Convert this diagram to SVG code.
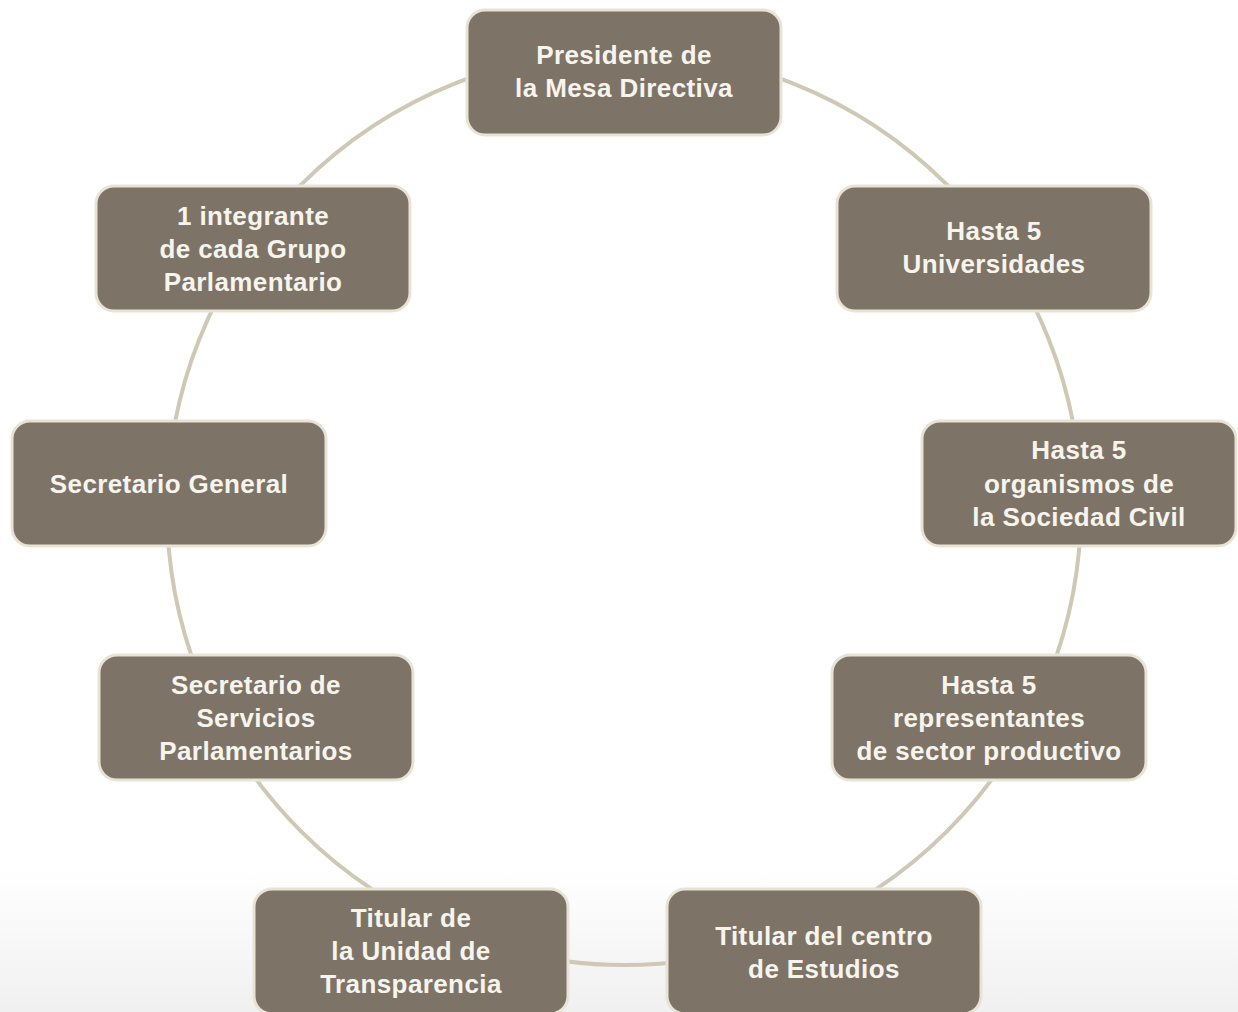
<svg xmlns="http://www.w3.org/2000/svg" width="1238" height="1012" viewBox="0 0 1238 1012">
  <defs>
    <linearGradient id="bg" x1="0" y1="0" x2="0" y2="1">
      <stop offset="0" stop-color="#ffffff"/>
      <stop offset="0.86" stop-color="#ffffff"/>
      <stop offset="1" stop-color="#f0f0f0"/>
    </linearGradient>
    <style>
      .node rect { fill: #7d7467; stroke: #e9e3d5; stroke-width: 3; }
      .node text { fill: #f7f4ee; font-family: "Liberation Sans", "DejaVu Sans", sans-serif; font-weight: bold; font-size: 26px; text-anchor: middle; letter-spacing: 0.4px; }
      .ring { fill: none; stroke: #cfc8b5; stroke-width: 4; }
    </style>
  </defs>
  <rect x="0" y="0" width="1238" height="1012" fill="url(#bg)"/>
  <g id="connectors">
    <circle class="ring" cx="624" cy="508" r="457"/>
  </g>
  <g id="n1" class="node">
    <rect x="467" y="10" width="314" height="125" rx="18"/>
    <text x="624" y="64">Presidente de</text>
    <text x="624" y="97">la Mesa Directiva</text>
  </g>
  <g id="n2" class="node">
    <rect x="837" y="186" width="314" height="125" rx="18"/>
    <text x="994" y="240">Hasta 5</text>
    <text x="994" y="273">Universidades</text>
  </g>
  <g id="n3" class="node">
    <rect x="922" y="421" width="314" height="125" rx="18"/>
    <text x="1079" y="459">Hasta 5</text>
    <text x="1079" y="493">organismos de</text>
    <text x="1079" y="526">la Sociedad Civil</text>
  </g>
  <g id="n4" class="node">
    <rect x="832" y="655" width="314" height="125" rx="18"/>
    <text x="989" y="694">Hasta 5</text>
    <text x="989" y="727">representantes</text>
    <text x="989" y="760">de sector productivo</text>
  </g>
  <g id="n5" class="node">
    <rect x="667" y="889" width="314" height="125" rx="18"/>
    <text x="824" y="945">Titular del centro</text>
    <text x="824" y="978">de Estudios</text>
  </g>
  <g id="n6" class="node">
    <rect x="254" y="889" width="314" height="125" rx="18"/>
    <text x="411" y="927">Titular de</text>
    <text x="411" y="960">la Unidad de</text>
    <text x="411" y="993">Transparencia</text>
  </g>
  <g id="n7" class="node">
    <rect x="99" y="655" width="314" height="125" rx="18"/>
    <text x="256" y="694">Secretario de</text>
    <text x="256" y="727">Servicios</text>
    <text x="256" y="760">Parlamentarios</text>
  </g>
  <g id="n8" class="node">
    <rect x="12" y="421" width="314" height="125" rx="18"/>
    <text x="169" y="493">Secretario General</text>
  </g>
  <g id="n9" class="node">
    <rect x="96" y="186" width="314" height="125" rx="18"/>
    <text x="253" y="225">1 integrante</text>
    <text x="253" y="258">de cada Grupo</text>
    <text x="253" y="291">Parlamentario</text>
  </g>
</svg>
